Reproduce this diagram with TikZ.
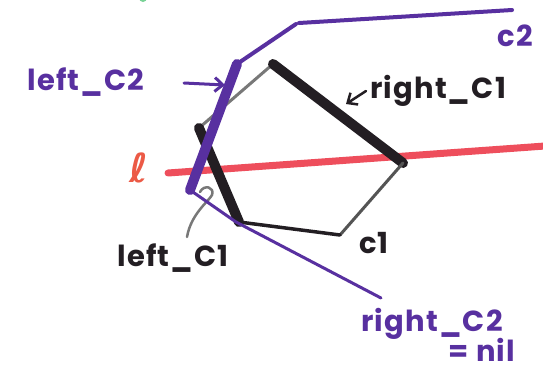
\documentclass[tikz,border=0pt]{standalone}
\usepackage{fontspec}
\setmainfont{Poppins}[LetterSpace=4]
\newfontfamily\ellfont{DejaVu Sans}
\usetikzlibrary{arrows.meta}
\definecolor{pur}{RGB}{88,48,160}
\definecolor{redl}{RGB}{238,78,92}
\definecolor{lred}{RGB}{236,90,70}
\definecolor{blk}{RGB}{35,30,35}
\definecolor{gry}{RGB}{120,120,120}
\definecolor{grn}{RGB}{120,210,150}
\tikzset{
  pen/.style={line cap=round, line join=round},
  lbl/.style={font=\fontsize{29}{29}\selectfont\bfseries, inner sep=0pt},
  arr/.style={pen, line width=3pt, -{Straight Barb[length=8pt,width=14pt]}}
}
\begin{document}
\begin{tikzpicture}[x=1pt,y=-1pt]
\useasboundingbox (0,0) rectangle (543,373);
\fill[white] (0,0) rectangle (543,373);
% green fragment at top
\fill[grn] (143,-2) circle (4);
% coordinates
\coordinate (lA) at (168,173);
\coordinate (lB) at (545,146);
\coordinate (t) at (273,64);
\coordinate (r) at (403,163);
\coordinate (br) at (340,235);
\coordinate (bl) at (239,222);
\coordinate (lv) at (199,128);
\coordinate (c2a) at (512,10);
\coordinate (c2b) at (299,23);
\coordinate (c2c) at (296,24);
\coordinate (c2d) at (237,64);
\coordinate (c2e) at (190,190);
\coordinate (c2f) at (236,222);
\coordinate (c2g) at (381,298);
% red line l
\draw[pen, redl, line width=7pt] (lA) -- (lB);
% polygon c1
\draw[pen, gry, line width=3pt] (lv) -- (t);
\draw[pen, blk, line width=10pt] (t) -- (r);
\draw[pen, gry!70!black, line width=3pt] (r) -- (br);
\draw[pen, blk, line width=3.5pt] (br) -- (bl);
\draw[pen, blk, line width=10pt] (lv) -- (bl);
% gray curl
\draw[pen, gry, line width=2.5pt] (187,237) .. controls (191,214) and (208,202) .. (212,195) .. controls (215,187) and (204,184) .. (200,192);
% chain c2
\draw[pen, pur, line width=4pt] (c2a) -- (c2b);
\draw[pen, pur, line width=4pt] (c2c) -- (c2d);
\draw[pen, pur, line width=10pt] (c2d) -- (c2e);
\draw[pen, pur, line width=3pt] (c2e) -- (c2f) -- (c2g);
% labels
\node[lbl, text=pur] (lc2) at (86,82) {left\_C2};
\coordinate (lc2s) at (184,83);
\coordinate (lc2t) at (225,85);
\draw[arr, pur] (lc2s) -- (lc2t);
\node[lbl, text=blk, anchor=west] (rc1) at (370,91) {right\_C1};
\coordinate (rc1t) at (346,104);
\draw[arr, blk, line width=2.5pt] (rc1.west) ++(-4,0) -- (rc1t);
\node[lbl, text=lred, font=\ellfont\fontsize{40}{40}\selectfont\bfseries] (ll) at (139,168) {ℓ};
\node[lbl, text=pur] (c2l) at (515,36) {c2};
\node[lbl, text=blk] (c1l) at (374,243) {c1};
\node[lbl, text=blk] (lc1) at (173,258) {left\_C1};
\node[lbl, text=pur] (rc2) at (432,324) {right\_C2};
\node[lbl, text=pur] (nil) at (482,350) {= nil};
\end{tikzpicture}
\end{document}
